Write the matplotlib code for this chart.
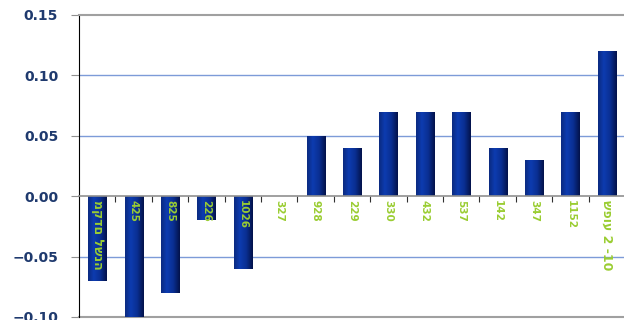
import numpy as np
import matplotlib
matplotlib.use('Agg')
from matplotlib import pyplot as plt
from matplotlib.colors import LinearSegmentedColormap

# נתונים
labels = ['מקדם לשנה', '425', '825', '226', '1026', '327', '928', '229', '330',
          '432', '537', '142', '347', '1152', 'שפוע 2 -10']
values = [-0.07, -0.10, -0.08, -0.02, -0.06, 0.0, 0.05, 0.04, 0.07,
          0.07, 0.07, 0.04, 0.03, 0.07, 0.12]
yticks = [-0.10, -0.05, 0.00, 0.05, 0.10, 0.15]

plt.rcParams['font.family'] = ['DejaVu Sans']

fig = plt.figure(figsize=(6.24, 3.2), dpi=100)
ax = fig.add_axes([79 / 624, 1 - 317 / 320, 546 / 624, 302 / 320])

x = np.arange(len(values))
bars = ax.bar(x, values, width=0.5, color='#082a8c', linewidth=0, zorder=3)

# מילוי מדורג לעמודות
cmap = LinearSegmentedColormap.from_list(
    'bar', [(0, '#0b2a80'), (0.3, '#0d3cb0'), (0.65, '#0a2f92'), (1, '#03124a')])
grad = np.linspace(0, 1, 64).reshape(1, -1)
for b in bars:
    if b.get_height() == 0:
        continue
    x0, y0 = b.get_x(), b.get_y()
    w, h = b.get_width(), b.get_height()
    im = ax.imshow(grad, cmap=cmap, aspect='auto', zorder=3,
                   extent=[x0, x0 + w, min(y0, y0 + h), max(y0, y0 + h)])
    im.set_clip_path(b)

ax.set_xlim(-0.5, len(values) - 0.5)
ax.set_ylim(-0.10, 0.15)

# קווי רשת
for y in [-0.05, 0.05, 0.10]:
    ax.axhline(y, color='#7d9bd8', linewidth=1, zorder=1)
ax.axhline(-0.10, color='#a0a0a0', linewidth=1.5, clip_on=False, zorder=2)

ax.spines['top'].set_color('#a0a0a0')
ax.spines['top'].set_linewidth(1.5)
ax.spines['right'].set_visible(False)
ax.spines['left'].set_color('black')
ax.spines['bottom'].set_position(('data', 0))
ax.spines['bottom'].set_color('#909090')
ax.spines['bottom'].set_linewidth(1.2)
ax.spines['bottom'].set_zorder(4)

ax.set_xticks(np.arange(0.5, len(values) - 0.5, 1.0))
ax.tick_params(axis='x', direction='out', length=4, color='#303030', labelbottom=False)

ax.set_yticks(yticks)
ax.set_yticklabels(['%.2f' % v if v >= 0 else '\u2212%.2f' % -v for v in yticks])
ax.tick_params(axis='y', direction='out', length=6, color='#909090', pad=9,
               labelsize=10, labelcolor='#1f3a6e')
for t in ax.get_yticklabels():
    t.set_fontweight('bold')

for i, lab in enumerate(labels):
    size = 7.5 if lab.isdigit() else 9
    ax.text(i, -0.003, lab, rotation=-90, ha='center', va='top', fontsize=size,
            fontweight='bold', color='#9acd32', zorder=5)

fig.savefig('out.png', dpi=100)
